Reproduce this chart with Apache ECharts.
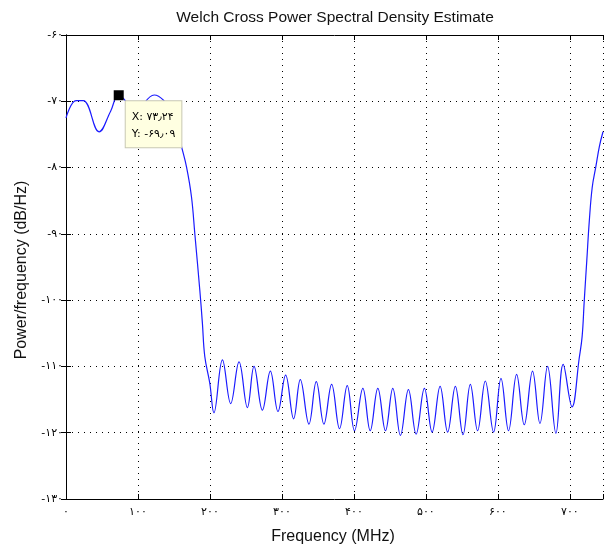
<!DOCTYPE html>
<html>
<head>
<meta charset="utf-8">
<script src="https://cdn.jsdelivr.net/npm/echarts@6/dist/echarts.min.js"></script>
<style>
  html, body { margin: 0; padding: 0; background: #fff; }
  #chart { width: 606px; height: 547px; }
</style>
</head>
<body>
<div id="chart"></div>
<script>
// Frequency samples (MHz) of the cross power spectral density
const freqMHz = [
  0, 14, 24, 46, 62, 73.24, 97, 122.5, 135, 146.6, 155, 160.4, 167.4, 174.3, 178.9,
  185.9, 189.5, 192.8, 199.7, 205.5,
  217.3, 228.8, 240.4, 252.0, 261.2, 272.8, 283.9, 294.5, 305.1, 316.2,
  325.5, 337.5, 347.7, 358.3, 369.0, 380.0, 390.7, 400.8, 412.4, 422.6,
  433.2, 443.8, 454.0, 464.6, 475.7, 486.4, 497.9, 508.6, 519.7, 530.2,
  540.9, 551.5, 561.7, 571.8, 582.5, 594.0, 604.3, 614.8, 626.0, 636.6,
  648.1, 658.4, 669.0, 680.6, 690.7, 703.0, 712.9, 717.0, 720.0, 723.5,
  727.0, 731.0, 736.0, 741.0, 746.0
];
// Power/frequency values (dB/Hz) at those samples
const powerDb = [
  -72.5, -69.9, -69.9, -74.6, -71.5, -69.09, -71.3, -69.05, -69.8, -71.8, -74.5, -76.8, -79.9, -84.4, -89.9,
  -98.5, -103.5, -108.5, -112.5, -117.0,
  -109.0, -115.6, -109.3, -116.2, -110.0, -116.6, -110.7, -116.8, -111.3, -117.9,
  -112.0, -118.7, -112.3, -118.7, -112.7, -119.4, -112.9, -119.7, -113.3, -119.7,
  -113.3, -119.7, -113.3, -120.4, -113.5, -120.2, -113.3, -119.9, -113.0, -119.9,
  -113.0, -120.3, -112.7, -119.7, -112.2, -119.9, -111.8, -119.7, -111.2, -118.8,
  -110.7, -118.6, -110.0, -120.1, -109.7, -116.1, -108.8, -105.5, -100.0, -94.0,
  -88.0, -83.0, -79.9, -76.8, -74.6
];
// Data tip point
const tipX = 73.24;
const tipY = -69.09;

// Axis ticks
const xTicks = [0, 100, 200, 300, 400, 500, 600, 700];
const yTicks = [-130, -120, -110, -100, -90, -80, -70, -60];
const xMax = 746;

const titleText = 'Welch Cross Power Spectral Density Estimate';
const xName = 'Frequency (MHz)';
const yName = 'Power/frequency (dB/Hz)';

const PERSIAN = ['۰','۱','۲','۳','۴','۵','۶','۷','۸','۹'];
function toPersian(str) {
  return String(str).replace(/[0-9]/g, d => PERSIAN[+d]).replace('.', '٫');
}

const curve = freqMHz.map((f, i) => [f, powerDb[i]]);
const FONT = '"Liberation Sans", Arial, sans-serif';
const TICK_FONT = '"DejaVu Sans", "Noto Sans", sans-serif';

const chart = echarts.init(document.getElementById('chart'), null, { renderer: 'canvas' });

const axisCommon = {
  type: 'value',
  axisLine: { show: true, lineStyle: { color: '#000', width: 1 } },
  axisTick: { show: true, inside: true, length: 5, lineStyle: { color: '#000' } },
  minorTick: { show: false }
};

chart.setOption({
  animation: false,
  backgroundColor: '#fff',
  grid: { left: 66, top: 35, right: 2, bottom: 48, containLabel: false },
  xAxis: [
    Object.assign({}, axisCommon, {
      position: 'bottom',
      min: 0, max: xMax, interval: 100,
      axisLabel: {
        color: '#000', fontSize: 11, fontFamily: TICK_FONT, margin: 8,
        formatter: v => xTicks.includes(v) ? toPersian(v) : ''
      },
      splitLine: { show: true, lineStyle: { color: '#000', type: [1, 5], width: 1 } }
    }),
    Object.assign({}, axisCommon, {
      position: 'top',
      min: 0, max: xMax, interval: 100,
      axisLabel: { show: false },
      splitLine: { show: false }
    })
  ],
  yAxis: [
    Object.assign({}, axisCommon, {
      position: 'left',
      min: -130, max: -60, interval: 10,
      axisLabel: {
        color: '#000', fontSize: 11, fontFamily: TICK_FONT, margin: 3,
        formatter: v => yTicks.includes(v) ? '-' + toPersian(Math.abs(v)) : ''
      },
      splitLine: { show: true, lineStyle: { color: '#000', type: [1, 5], width: 1 } }
    }),
    Object.assign({}, axisCommon, {
      position: 'right',
      min: -130, max: -60, interval: 10,
      axisLabel: { show: false },
      splitLine: { show: false }
    })
  ],
  series: [
    {
      type: 'line',
      data: curve,
      xAxisIndex: 0, yAxisIndex: 0,
      showSymbol: false,
      smooth: 0.4,
      lineStyle: { color: '#1a1aff', width: 1.2 },
      z: 3
    },
    {
      type: 'scatter',
      data: [[tipX, tipY]],
      xAxisIndex: 0, yAxisIndex: 0,
      symbol: 'rect',
      symbolSize: 10,
      itemStyle: { color: '#000', borderWidth: 0, opacity: 1 },
      emphasis: { disabled: true },
      label: {
        show: true,
        position: [12, 11],
        formatter: p => 'X: ' + toPersian(p.value[0].toFixed(2)) + '\nY: -' + toPersian(Math.abs(p.value[1]).toFixed(2)),
        color: '#000',
        fontSize: 11,
        fontFamily: TICK_FONT,
        lineHeight: 17,
        align: 'left',
        verticalAlign: 'top',
        backgroundColor: '#ffffe1',
        borderColor: '#c8c8b4',
        borderWidth: 1,
        padding: [7, 6, 5, 6]
      },
      z: 5
    }
  ],
  graphic: [
    {
      type: 'text', x: 335, y: 18,
      style: { text: titleText, fill: '#111', font: '15.5px ' + FONT, textAlign: 'center', textVerticalAlign: 'middle' }
    },
    {
      type: 'text', x: 333, y: 537,
      style: { text: xName, fill: '#111', font: '16px ' + FONT, textAlign: 'center', textVerticalAlign: 'middle' }
    },
    {
      type: 'text', x: 22, y: 270, rotation: Math.PI / 2,
      style: { text: yName, fill: '#111', font: '16px ' + FONT, textAlign: 'center', textVerticalAlign: 'middle' }
    }
  ]
});
</script>
</body>
</html>
